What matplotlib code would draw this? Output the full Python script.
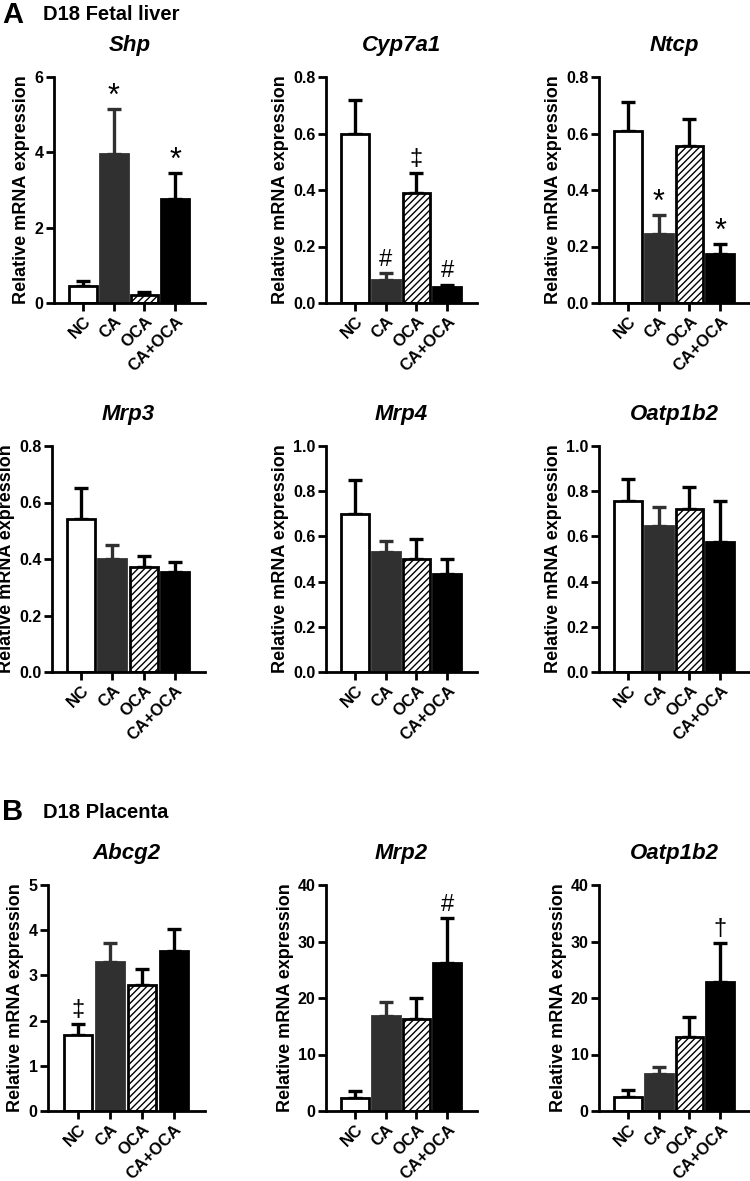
"""Fetal liver and placenta transporter mRNA panels."""
import matplotlib
matplotlib.use("Agg")
import matplotlib.pyplot as plt

plt.rcParams["font.family"] = ["Liberation Sans", "DejaVu Sans"]
plt.rcParams["font.weight"] = "bold"
plt.rcParams["hatch.linewidth"] = 1.0

groups = ["NC", "CA", "OCA", "CA+OCA"]

# fetal liver
shp_mean = [0.45, 3.95, 0.22, 2.75]
shp_sem = [0.13, 1.20, 0.08, 0.70]
shp_sig = ["", "*", "", "*"]

cyp7a1_mean = [0.60, 0.08, 0.39, 0.055]
cyp7a1_sem = [0.12, 0.025, 0.07, 0.010]
cyp7a1_sig = ["", "#", "‡", "#"]

ntcp_mean = [0.61, 0.245, 0.555, 0.175]
ntcp_sem = [0.10, 0.065, 0.095, 0.035]
ntcp_sig = ["", "*", "", "*"]

mrp3_mean = [0.54, 0.40, 0.37, 0.355]
mrp3_sem = [0.11, 0.05, 0.04, 0.035]

mrp4_mean = [0.70, 0.53, 0.50, 0.435]
mrp4_sem = [0.15, 0.05, 0.09, 0.065]

oatp_liver_mean = [0.755, 0.645, 0.72, 0.575]
oatp_liver_sem = [0.10, 0.085, 0.10, 0.18]

# placenta
abcg2_mean = [1.68, 3.30, 2.78, 3.55]
abcg2_sem = [0.25, 0.42, 0.37, 0.47]
abcg2_sig = ["‡", "", "", ""]

mrp2_mean = [2.3, 16.8, 16.3, 26.2]
mrp2_sem = [1.2, 2.5, 3.7, 7.9]
mrp2_sig = ["", "", "", "#"]

oatp_plac_mean = [2.5, 6.6, 13.1, 22.8]
oatp_plac_sem = [1.2, 1.2, 3.5, 6.9]
oatp_plac_sig = ["", "", "", "†"]

FACE = ["white", "#303030", "white", "black"]
EDGE = ["black", "#303030", "black", "black"]
HATCH = [None, None, "/////", None]

W, H = 750, 1181


def panel(fig, rect_px, title, mean, sem, yticks, sig=None):
    x0, x1, ytop, ybot = rect_px
    ax = fig.add_axes([x0 / W, 1 - ybot / H, (x1 - x0) / W, (ybot - ytop) / H])
    x = range(len(groups))
    for i in x:
        ax.bar(i, mean[i], width=0.9, color=FACE[i], edgecolor=EDGE[i],
               linewidth=2.0, hatch=HATCH[i], zorder=2)
        ax.errorbar(i, mean[i], yerr=[[0], [sem[i]]], color=EDGE[i],
                    elinewidth=2.4, capsize=5, capthick=2.4, zorder=1)
        if sig and sig[i]:
            star = sig[i] == "*"
            ax.annotate(sig[i], (i, mean[i] + sem[i]),
                        xytext=(0, -2 if star else 2),
                        textcoords="offset points", ha="center", va="bottom",
                        fontsize=22 if star else 17, fontweight="normal")
    ax.set_xlim(-0.94, 3.97)
    ax.set_ylim(yticks[0], yticks[-1])
    ax.set_yticks(yticks)
    ax.set_xticks(list(x))
    ax.set_xticklabels(groups, rotation=45, ha="right", rotation_mode="anchor",
                       fontsize=12, fontweight="bold")
    for lab in ax.get_yticklabels():
        lab.set_fontsize(11.5)
        lab.set_fontweight("bold")
    ax.spines["top"].set_visible(False)
    ax.spines["right"].set_visible(False)
    for s in ("left", "bottom"):
        ax.spines[s].set_linewidth(2.0)
    ax.tick_params(width=2.0, length=6, pad=1.5)
    ax.set_ylabel("Relative mRNA expression", fontsize=13, fontweight="bold",
                  labelpad=3)
    ax.set_title(title, fontsize=16, fontweight="bold", style="italic", pad=19)
    return ax


def main():
    fig = plt.figure(figsize=(W / 100, H / 100), dpi=100)

    r1 = (77, 303)
    r2 = (446, 672)
    r3 = (885, 1111)
    c1 = (54, 205)
    c2 = (326, 477)
    c3 = (599, 750)

    panel(fig, (*c1, *r1), "Shp", shp_mean, shp_sem, [0, 2, 4, 6], shp_sig)
    panel(fig, (*c2, *r1), "Cyp7a1", cyp7a1_mean, cyp7a1_sem,
          [0.0, 0.2, 0.4, 0.6, 0.8], cyp7a1_sig)
    panel(fig, (*c3, *r1), "Ntcp", ntcp_mean, ntcp_sem,
          [0.0, 0.2, 0.4, 0.6, 0.8], ntcp_sig)

    panel(fig, (52, 205, *r2), "Mrp3", mrp3_mean, mrp3_sem, [0.0, 0.2, 0.4, 0.6, 0.8])
    panel(fig, (*c2, *r2), "Mrp4", mrp4_mean, mrp4_sem,
          [0.0, 0.2, 0.4, 0.6, 0.8, 1.0])
    panel(fig, (*c3, *r2), "Oatp1b2", oatp_liver_mean, oatp_liver_sem,
          [0.0, 0.2, 0.4, 0.6, 0.8, 1.0])

    panel(fig, (48, 205, *r3), "Abcg2", abcg2_mean, abcg2_sem,
          [0, 1, 2, 3, 4, 5], abcg2_sig)
    panel(fig, (*c2, *r3), "Mrp2", mrp2_mean, mrp2_sem, [0, 10, 20, 30, 40], mrp2_sig)
    panel(fig, (*c3, *r3), "Oatp1b2", oatp_plac_mean, oatp_plac_sem,
          [0, 10, 20, 30, 40], oatp_plac_sig)

    fig.text(2 / W, 1 - 15 / H, "A", fontsize=21, fontweight="bold", va="center")
    fig.text(43 / W, 1 - 15 / H, "D18 Fetal liver", fontsize=14.5, fontweight="bold",
             va="center")
    fig.text(2 / W, 1 - 812 / H, "B", fontsize=21, fontweight="bold", va="center")
    fig.text(43 / W, 1 - 812 / H, "D18 Placenta", fontsize=14.5, fontweight="bold",
             va="center")

    fig.savefig("out.png", dpi=100)


if __name__ == "__main__":
    main()
